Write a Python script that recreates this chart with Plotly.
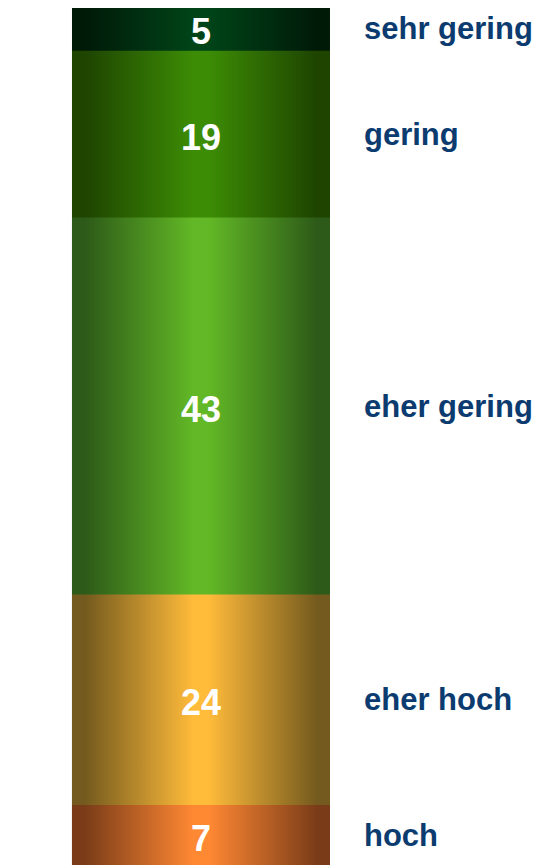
import numpy as np
import plotly.graph_objects as go

# stacked from the bottom up
categories = ["hoch", "eher hoch", "eher gering", "gering", "sehr gering"]
values = [7, 24, 43, 19, 5]

# (edge colour, centre colour) for the cylinder shading
edge_colors = ["#7a3c18", "#745a1e", "#2d5a18", "#1e4400", "#001a08"]
center_colors = ["#ff8833", "#ffbb3a", "#62b826", "#3c8c05", "#004418"]

label_color = "#0b3b6f"

tops = np.cumsum(values)
bases = tops - np.array(values)
mids = (tops + bases) / 2

fig = go.Figure()

# draw each segment from zero up to its cumulative top, largest first,
# so the smaller ones sit on top and there are no seams between them
for cat, top, edge, center in reversed(list(zip(categories, tops, edge_colors, center_colors))):
    fig.add_trace(go.Scatter(
        x=[-0.5, 0.5, 0.5, -0.5, -0.5],
        y=[0, 0, top, top, 0],
        mode="lines",
        line=dict(width=0),
        fill="toself",
        fillgradient=dict(
            type="horizontal",
            colorscale=[
                [0.0, edge], [0.05, edge], [0.47, center],
                [0.53, center], [0.95, edge], [1.0, edge],
            ],
        ),
        name=cat,
        hoverinfo="skip",
        showlegend=False,
    ))

for v, m in zip(values, mids):
    fig.add_annotation(
        x=0, y=m,
        text=str(v),
        showarrow=False,
        xanchor="center", yanchor="middle",
        yshift=-3,
        font=dict(family="Liberation Sans, Arial", size=36, color="white", weight="bold"),
    )

for cat, m in zip(categories, mids):
    fig.add_annotation(
        x=0.624, y=m,
        text=cat,
        showarrow=False,
        xanchor="left", yanchor="middle",
        font=dict(family="Liberation Sans, Arial", size=31, color=label_color, weight="bold"),
    )

# the page body adds an 8px margin, so the figure is a bit smaller than the window
fig.update_layout(
    width=535,
    height=857,
    margin=dict(l=0, r=0, t=0, b=0),
    plot_bgcolor="white",
    paper_bgcolor="white",
    xaxis=dict(range=[-0.748, 1.3256], visible=False, fixedrange=True),
    yaxis=dict(range=[0.17, 97.886], visible=False, fixedrange=True),
)

fig.write_html("out.html")
